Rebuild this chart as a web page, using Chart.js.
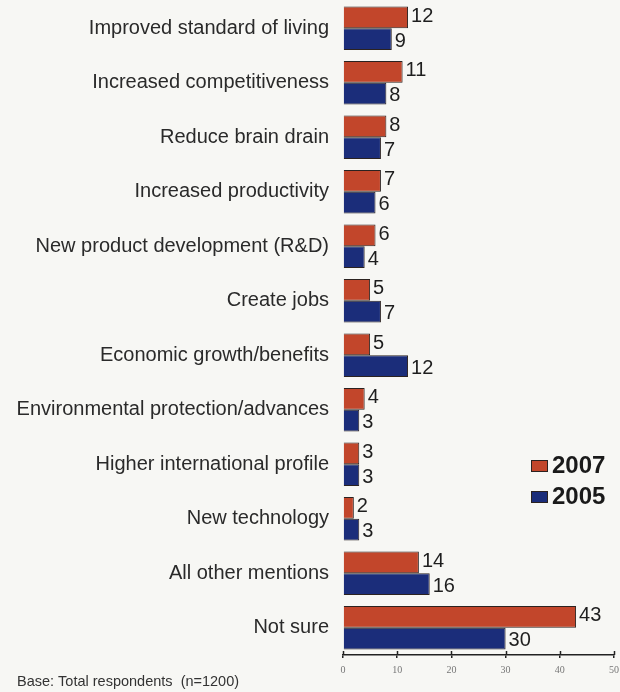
<!DOCTYPE html>
<html>
<head>
<meta charset="utf-8">
<script src="https://cdn.jsdelivr.net/npm/chart.js@4/dist/chart.umd.min.js"></script>
<style>
  html, body { margin: 0; padding: 0; background: #f7f7f4; }
  #wrap { width: 620px; height: 692px; }
</style>
</head>
<body>
<div id="wrap"><canvas id="c" width="620" height="692"></canvas></div>
<script>
// Reasons mentioned, share of respondents (%)
const categories = [
  "Improved standard of living",
  "Increased competitiveness",
  "Reduce brain drain",
  "Increased productivity",
  "New product development (R&D)",
  "Create jobs",
  "Economic growth/benefits",
  "Environmental protection/advances",
  "Higher international profile",
  "New technology",
  "All other mentions",
  "Not sure"
];
const values2007 = [12, 11, 8, 7, 6, 5, 5, 4, 3, 2, 14, 43];
const values2005 = [9, 8, 7, 6, 4, 7, 12, 3, 3, 3, 16, 30];
const seriesNames = ["2007", "2005"];
const xTicks = [0, 10, 20, 30, 40, 50];
const footnote = "Base: Total respondents  (n=1200)";

const RED = "#c2462b";
const BLUE = "#1b2d7a";
const EDGE = "#2b2220";
const SANS = "'Liberation Sans', Arial, sans-serif";

const backgroundPlugin = {
  id: "bg",
  beforeDraw(chart) {
    const ctx = chart.ctx;
    ctx.save();
    ctx.fillStyle = "#f7f7f4";
    ctx.fillRect(0, 0, chart.width, chart.height);
    ctx.restore();
  }
};

// Value printed just past the end of each bar
const valueLabels = {
  id: "valueLabels",
  afterDatasetsDraw(chart) {
    const ctx = chart.ctx;
    ctx.save();
    ctx.font = "20px " + SANS;
    ctx.fillStyle = "#1e1e1e";
    ctx.textAlign = "left";
    ctx.textBaseline = "middle";
    chart.data.datasets.forEach((ds, di) => {
      const meta = chart.getDatasetMeta(di);
      meta.data.forEach((bar, i) => {
        const dy = di === 0 ? -1 : 2;
        ctx.fillText(String(ds.data[i]), bar.x + 3, bar.y + dy);
      });
    });
    ctx.restore();
  }
};

// Upward half of the x-axis tick marks, legend boxes and footnote
const extras = {
  id: "extras",
  afterDraw(chart) {
    const ctx = chart.ctx;
    const xs = chart.scales.x;
    const area = chart.chartArea;
    ctx.save();
    ctx.strokeStyle = "#222";
    ctx.lineWidth = 1.5;
    xTicks.forEach(v => {
      const px = Math.round(xs.getPixelForValue(v)) + 0.5;
      ctx.beginPath();
      ctx.moveTo(px, area.bottom);
      ctx.lineTo(px, area.bottom - 4);
      ctx.stroke();
    });

    // legend
    const lx = 531, ly = [466, 497];
    ctx.font = "bold 24px " + SANS;
    ctx.textBaseline = "middle";
    ctx.textAlign = "left";
    chart.data.datasets.forEach((ds, i) => {
      ctx.fillStyle = ds.backgroundColor;
      ctx.fillRect(lx, ly[i] - 6, 17, 12);
      ctx.strokeStyle = EDGE;
      ctx.lineWidth = 1;
      ctx.strokeRect(lx + 0.5, ly[i] - 5.5, 16, 11);
      ctx.fillStyle = "#1a1a1a";
      ctx.fillText(ds.label, lx + 21, ly[i]);
    });

    ctx.font = "14.5px " + SANS;
    ctx.fillStyle = "#333";
    ctx.textBaseline = "middle";
    ctx.fillText(footnote, 17, 682);
    ctx.restore();
  }
};

new Chart(document.getElementById("c"), {
  type: "bar",
  data: {
    labels: categories,
    datasets: [
      { label: seriesNames[0], data: values2007, backgroundColor: RED, borderColor: EDGE, borderWidth: 1 },
      { label: seriesNames[1], data: values2005, backgroundColor: BLUE, borderColor: EDGE, borderWidth: 1 }
    ]
  },
  options: {
    indexAxis: "y",
    responsive: false,
    animation: false,
    devicePixelRatio: 1,
    categoryPercentage: 0.8,
    barPercentage: 1.0,
    layout: { padding: { left: 0, right: 6, top: 1, bottom: 0 } },
    plugins: {
      legend: { display: false },
      tooltip: { enabled: false }
    },
    scales: {
      y: {
        grid: { display: false, drawTicks: false },
        border: { display: false },
        ticks: {
          color: "#2a2a2a",
          padding: 14,
          font: { family: SANS, size: 20 }
        },
        afterFit(scale) {
          scale.width = 343;
          scale.paddingTop = 0;
          scale.paddingBottom = 0;
        }
      },
      x: {
        min: 0,
        max: 50,
        afterBuildTicks(scale) { scale.ticks = xTicks.map(v => ({ value: v })); },
        grid: { drawOnChartArea: false, drawTicks: true, tickLength: 3, color: "#222", lineWidth: 1.5 },
        border: { display: true, color: "#222", width: 1.5 },
        ticks: {
          color: "#777",
          padding: 6,
          maxRotation: 0,
          font: { family: "'Liberation Serif', 'DejaVu Serif', serif", size: 10 }
        },
        afterFit(scale) {
          scale.height = 37;
          scale.paddingLeft = 0;
          scale.paddingRight = 0;
        }
      }
    }
  },
  plugins: [backgroundPlugin, valueLabels, extras]
});
</script>
</body>
</html>
